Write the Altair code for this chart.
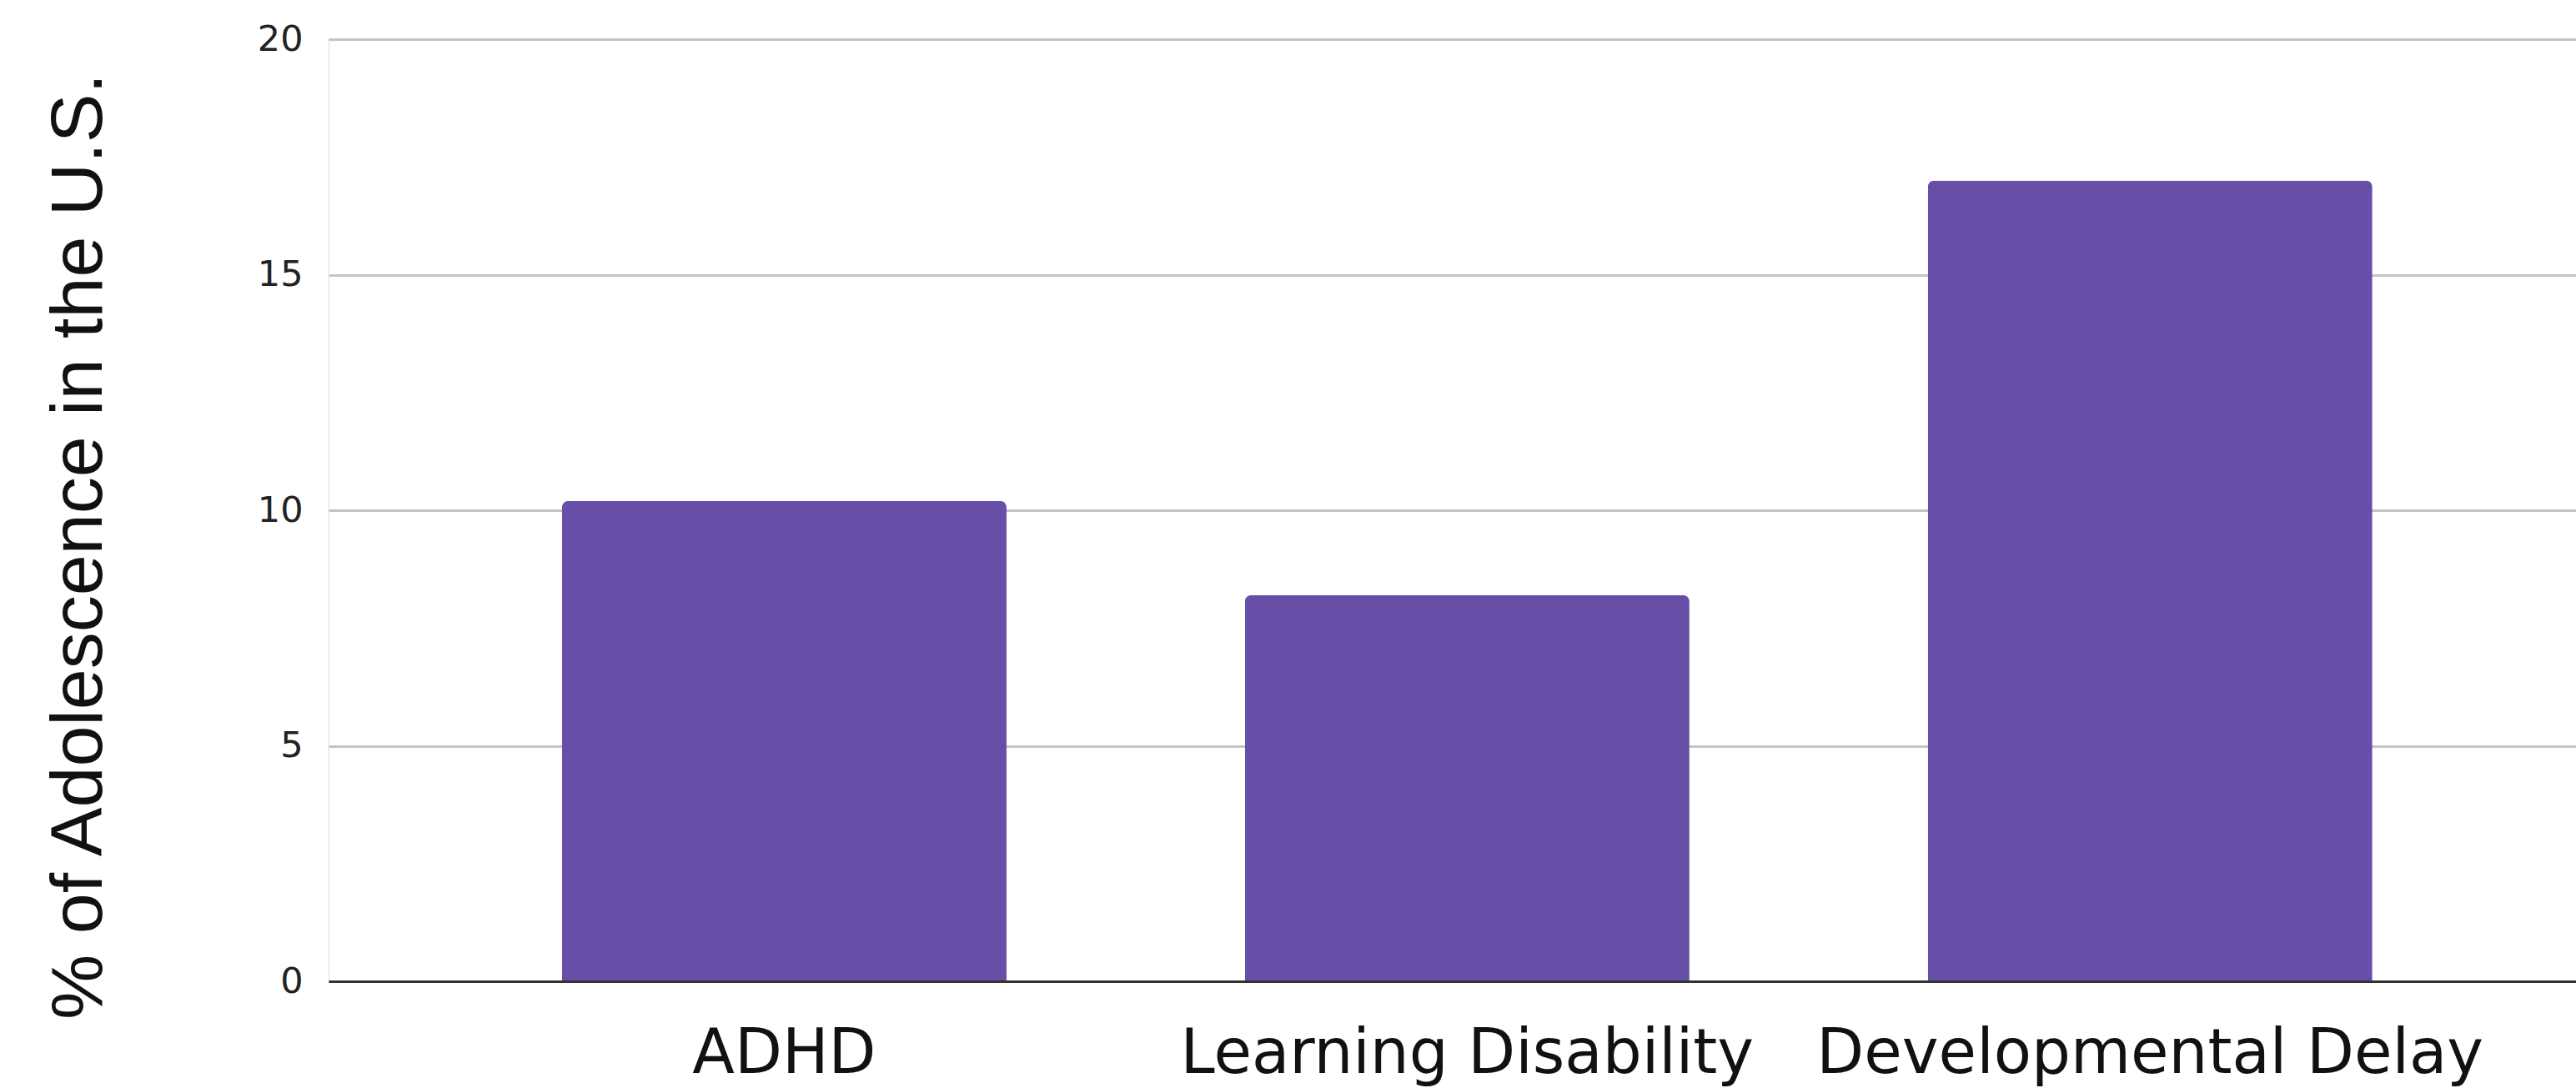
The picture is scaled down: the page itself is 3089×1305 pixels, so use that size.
import altair as alt
import pandas as pd

categories = ["ADHD", "Learning Disability", "Developmental Delay"]
values = [10.2, 8.2, 17.0]
y_ticks = [0, 5, 10, 15, 20]

df = pd.DataFrame({"category": categories, "value": values})

chart = alt.Chart(df).mark_bar(
    color="#674ea7",
    cornerRadiusTopLeft=8,
    cornerRadiusTopRight=8,
).encode(
    x=alt.X(
        "category:N",
        sort=categories,
        scale=alt.Scale(paddingInner=0.349, paddingOuter=0.32, align=0.534),
        axis=alt.Axis(
            title=None,
            labelAngle=0,
            labelFont="DejaVu Sans",
            labelFontSize=74,
            labelColor="#111111",
            labelBaseline="alphabetic",
            labelPadding=109,
            labelLimit=2000,
            ticks=False,
            domain=True,
            domainColor="#333333",
            domainWidth=3,
            grid=False,
            zindex=1,
        ),
    ),
    y=alt.Y(
        "value:Q",
        scale=alt.Scale(domain=[0, 20], nice=False),
        axis=alt.Axis(
            values=y_ticks,
            title="% of Adolescence in the U.S.",
            titleFont="Liberation Sans",
            titleFontSize=88,
            titleFontWeight="normal",
            titleColor="#111111",
            titleAngle=-90,
            titleX=-299,
            titleY=608,
            titleAlign="center",
            titleBaseline="middle",
            labelFont="DejaVu Sans",
            labelFontSize=43,
            labelColor="#222222",
            labelPadding=31,
            ticks=False,
            domain=False,
            grid=True,
            gridColor="#c4c4c4",
            gridWidth=3,
        ),
    ),
).properties(
    width=2695,
    height=1130,
    autosize=alt.AutoSizeParams(type="none"),
    padding={"left": 394, "top": 47, "right": 0, "bottom": 128},
).configure_view(stroke=None).configure(background="white")

chart.save("out.html", embed_options={"renderer": "svg", "actions": False})
